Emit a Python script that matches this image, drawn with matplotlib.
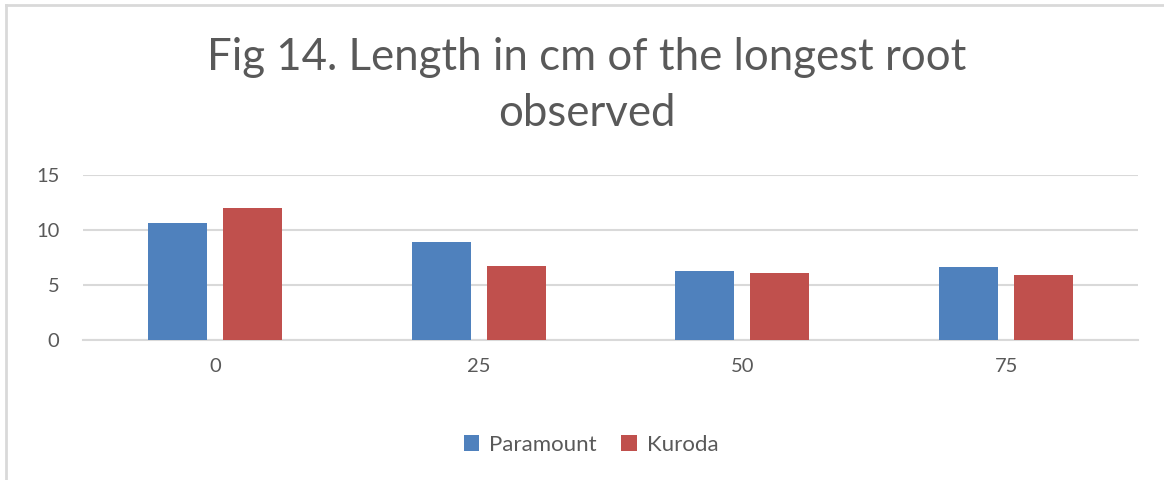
import matplotlib
matplotlib.use("Agg")
import matplotlib.pyplot as plt
import numpy as np

categories = ["0", "25", "50", "75"]
series_names = ["Paramount", "Kuroda"]
paramount = [10.6, 8.9, 6.3, 6.6]
kuroda = [12.0, 6.7, 6.1, 5.9]
yticks = [0, 5, 10, 15]

plt.rcParams['font.family'] = ['Lato', 'DejaVu Sans']
text_color = '#595959'
grid_color = '#d9d9d9'
colors = ['#4f81bd', '#c0504d']

fig = plt.figure(figsize=(11.64, 4.8), dpi=100)
ax = fig.add_axes([83/1164, 1-340/480, (1138-83)/1164, (340-175)/480])

x = np.arange(len(categories))
w = 0.2235
off = 0.142
ax.bar(x - off, paramount, width=w, color=colors[0], label=series_names[0], zorder=3)
ax.bar(x + off, kuroda, width=w, color=colors[1], label=series_names[1], zorder=3)

ax.set_xlim(-0.5, len(categories) - 0.5)
ax.set_ylim(0, 15)
ax.set_yticks(yticks)
ax.set_xticks(x)
ax.set_xticklabels(categories)
ax.yaxis.grid(True, color=grid_color, linewidth=1.5, zorder=0)
ax.set_axisbelow(True)
for s in ['top', 'right', 'left']:
    ax.spines[s].set_visible(False)
ax.spines['bottom'].set_color(grid_color)
ax.spines['bottom'].set_linewidth(1.5)
ax.tick_params(axis='both', length=0, labelsize=14.5, colors=text_color)
ax.tick_params(axis='x', pad=13)
ax.tick_params(axis='y', pad=17)

fig.text(587/1164, 1-57/480, "Fig 14. Length in cm of the longest root", ha='center', va='center',
         fontsize=31.5, color=text_color)
fig.text(587/1164, 1-114/480, "observed", ha='center', va='center', fontsize=31.5, color=text_color)

leg = fig.legend(loc='center', bbox_to_anchor=(591/1164, 1-445/480), ncol=2, frameon=False,
                 fontsize=16, handlelength=0.7, handleheight=0.7, handletextpad=0.45, columnspacing=1.1)
for t in leg.get_texts():
    t.set_color(text_color)

# chart border (left and top)
fig.add_artist(plt.Line2D([6/1164, 6/1164], [0, 1-5/480], color=grid_color, linewidth=2))
fig.add_artist(plt.Line2D([6/1164, 1], [1-5/480, 1-5/480], color=grid_color, linewidth=2))

fig.savefig("out.png", dpi=100)
